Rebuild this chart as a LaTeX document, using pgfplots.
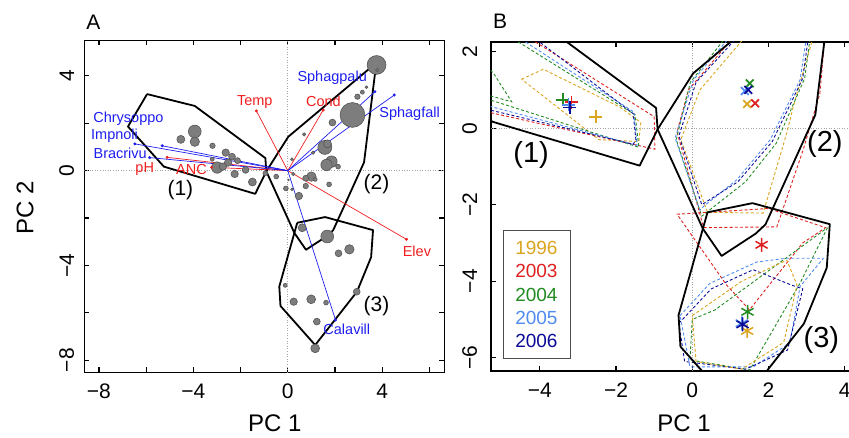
\documentclass[border=0pt]{standalone}
\usepackage{fontspec}
\setmainfont{Liberation Sans}
\usepackage{pgfplots}
\pgfplotsset{compat=1.18}
\definecolor{cgold}{RGB}{218,165,32}
\definecolor{cred}{RGB}{222,32,32}
\definecolor{cgreen}{RGB}{34,139,34}
\definecolor{clblue}{RGB}{80,140,240}
\definecolor{cnavy}{RGB}{10,10,150}
\definecolor{ared}{RGB}{240,30,30}
\definecolor{ablue}{RGB}{30,30,240}
\definecolor{bubfill}{RGB}{125,125,125}
\definecolor{bubedge}{RGB}{85,85,85}
\pgfplotsset{
  panel/.style={
    scale only axis, anchor=south west,
    axis line style={line width=1.6pt},
    tick align=inside, major tick length=5pt,
    tick style={black, line width=1.2pt},
    tick label style={font=\fontsize{21}{21}\selectfont},
    /pgf/number format/assume math mode=true,
    yticklabel style={rotate=90, anchor=south},
  },
  dsh/.style={line width=0.9pt, dash pattern=on 3pt off 2.2pt},
  hull/.style={black, line width=1.8pt, line join=round},
  arr/.style={line width=0.7pt, mark=*, mark size=1.1pt, mark indices={2}},
}
\tikzset{lab/.style={font=\fontsize{14.5}{14.5}\selectfont, inner sep=0pt}}
\begin{document}
\begin{tikzpicture}
\useasboundingbox (0,0) rectangle (849pt,437pt);
% ---------------- Panel A
\begin{axis}[panel, at={(84.3pt,64.7pt)}, width=360pt, height=332pt,
  xmin=-8.62, xmax=6.63, ymin=-8.51, ymax=5.50,
  xtick={-8,-6,...,6}, xticklabels={−8,,−4,,0,,4,},
  ytick={-8,-6,...,4}, yticklabels={−8,,−4,,0,,4},
  xticklabel shift=8pt, yticklabel shift=6.6pt]
\draw[gray!70, dotted, line width=0.6pt] (axis cs:0,-8.51) -- (axis cs:0,5.5);
\draw[gray!70, dotted, line width=0.6pt] (axis cs:-8.62,0) -- (axis cs:6.63,0);
\addplot[scatter, only marks, mark=*,
  scatter/use mapped color={draw=bubedge, fill=bubfill},
  visualization depends on={\thisrow{r}\as\rr},
  scatter/@pre marker code/.append style={/tikz/mark size=\rr pt},
  mark options={line width=0.6pt}] table[x=x,y=y]{
x y r
-3.94 1.65 6.4
-4.53 1.32 4.0
-3.94 1.22 4.7
-3.19 1.05 2.7
-2.63 0.76 3.7
-2.36 0.59 3.4
-2.13 0.42 3.0
-3.20 0.48 2.0
-2.53 0.34 3.7
-2.99 0.13 5.7
-2.75 0.17 3.7
-2.25 -0.14 3.7
-1.79 0.03 3.4
-1.50 -0.48 4.0
-0.95 -0.11 2.4
-0.49 -0.25 2.4
3.76 4.46 9.4
3.79 4.25 1.7
2.74 2.35 12.4
3.33 3.52 1.4
3.16 3.31 2.0
2.95 3.12 2.7
1.89 2.03 3.4
0.69 1.53 1.7
1.57 0.98 7.0
1.68 1.13 4.0
1.07 0.76 1.7
1.85 0.38 5.7
1.64 0.24 5.7
2.13 0.17 2.4
0.23 -0.14 1.7
1.00 -0.25 4.7
0.76 -0.32 3.0
1.16 -0.37 2.0
0.76 -0.65 2.7
1.75 -0.58 2.4
-0.08 -0.75 2.4
0.18 -0.79 1.4
0.47 -1.07 3.7
0.18 0.48 1.4
0.03 -0.39 0.8
0.61 -2.41 4.0
1.67 -2.78 6.4
2.61 -3.32 4.7
2.15 -3.49 3.4
-0.11 -4.84 2.0
0.25 -5.53 3.7
0.99 -5.43 4.4
1.62 -5.57 2.4
2.92 -5.11 3.4
1.23 -6.37 3.4
1.16 -7.50 4.4
};
% hulls
\addplot[hull] coordinates {(-5.96,3.23) (-3.94,2.73) (-0.95,0.53) (-0.91,-0.03) (-1.38,-0.98) (-5.25,0.17) (-6.77,1.86) (-5.96,3.23)};
\addplot[hull] coordinates {(-0.91,-0.03) (0.02,1.43) (3.75,4.55) (3.23,0.35) (1.92,-2.52) (1.66,-2.76) (0.77,-3.34) (0.28,-2.63) (-0.91,-0.03)};
\addplot[hull] coordinates {(0.40,-2.20) (1.58,-1.96) (3.61,-2.51) (3.53,-3.65) (2.93,-5.11) (1.16,-7.36) (-0.31,-5.71) (-0.36,-4.89) (0.40,-2.20)};
% red vectors
\addplot[arr, ared] coordinates {(0,0) (-1.33,2.52)};
\addplot[arr, ared] coordinates {(0,0) (1.50,2.56)};
\addplot[arr, ared] coordinates {(0,0) (-5.11,0.56)};
\addplot[arr, ared] coordinates {(0,0) (-3.23,0.14)};
\addplot[arr, ared] coordinates {(0,0) (5.03,-2.90)};
% blue vectors
\addplot[arr, ablue] coordinates {(0,0) (3.69,3.33)};
\addplot[arr, ablue] coordinates {(0,0) (4.51,3.19)};
\addplot[arr, ablue] coordinates {(0,0) (-5.32,1.05)};
\addplot[arr, ablue] coordinates {(0,0) (-6.48,1.13)};
\addplot[arr, ablue] coordinates {(0,0) (-5.85,0.55)};
\addplot[arr, ablue] coordinates {(0,0) (2.02,-6.30)};
% labels
\node[lab, text=ared] at (axis cs:-1.40,2.91) {Temp};
\node[lab, text=ared] at (axis cs:1.51,2.94) {Cond};
\node[lab, text=ared] at (axis cs:-6.06,0.08) {pH};
\node[lab, text=ared] at (axis cs:-4.08,0.03) {ANC};
\node[lab, text=ared] at (axis cs:5.47,-3.42) {Elev};
\node[lab, text=ablue] at (axis cs:1.88,3.90) {Sphagpalu};
\node[lab, text=ablue] at (axis cs:5.16,2.42) {Sphagfall};
\node[lab, text=ablue] at (axis cs:-6.75,2.21) {Chrysoppo};
\node[lab, text=ablue] at (axis cs:-7.34,1.46) {Impnoli};
\node[lab, text=ablue] at (axis cs:-7.10,0.72) {Bracrivu};
\node[lab, text=ablue] at (axis cs:2.50,-6.68) {Calavill};
\node[font=\fontsize{21}{21}\selectfont, inner sep=0pt] at (axis cs:-4.55,-0.82) {(1)};
\node[font=\fontsize{21}{21}\selectfont, inner sep=0pt] at (axis cs:3.76,-0.56) {(2)};
\node[font=\fontsize{21}{21}\selectfont, inner sep=0pt] at (axis cs:3.76,-5.71) {(3)};
\end{axis}
% ---------------- Panel B
\begin{axis}[panel, at={(490.7pt,66.3pt)}, width=379.3pt, height=329pt,
  xmin=-5.29, xmax=4.665, ymin=-6.34, ymax=2.26,
  xtick={-4,-2,0,2,4}, xticklabels={−4,−2,0,2,4},
  ytick={-6,-4,-2,0,2}, yticklabels={−6,−4,−2,0,2},
  xticklabel shift=9pt, yticklabel shift=10pt]
\draw[gray!70, dotted, line width=0.6pt] (axis cs:0,-6.34) -- (axis cs:0,2.26);
\draw[gray!70, dotted, line width=0.6pt] (axis cs:-5.29,0) -- (axis cs:4.665,0);
% group 1 yearly hulls
\addplot[dsh, cgold] coordinates {(-4.48,1.28) (-3.91,1.54) (-1.9,0.55) (-1.35,0.15) (-1.4,-0.35) (-2.45,-0.3) (-4.48,1.28)};
\addplot[dsh, cred] coordinates {(-4.35,2.4) (-1.0,0.3) (-0.98,-0.55) (-5.5,0.45) (-5.5,2.4) (-4.35,2.4)};
\addplot[dsh, cgreen] coordinates {(-4.8,2.4) (-1.5,0.35) (-1.4,-0.5) (-5.5,0.8) (-5.5,2.4) (-4.8,2.4)};
\addplot[dsh, cgreen] coordinates {(-5.5,1.7) (-5.22,1.44) (-4.74,0.69) (-5.5,0.9)};
\addplot[dsh, clblue] coordinates {(-4.6,2.4) (-3.6,1.75) (-1.53,0.42) (-1.45,-0.45) (-5.5,0.62) (-5.5,2.4) (-4.6,2.4)};
\addplot[dsh, cnavy] coordinates {(-4.2,2.4) (-1.55,0.38) (-1.48,-0.3) (-1.55,-0.42) (-5.5,0.52) (-5.5,2.4) (-4.2,2.4)};
% group 2 yearly hulls
\addplot[dsh, cgold] coordinates {(1.4,2.4) (0.2,1.0) (-0.3,-0.3) (0.4,-2.2) (1.86,-2.22) (2.48,-0.13) (2.65,0.56) (3.18,2.4)};
\addplot[dsh, cred] coordinates {(1.1,2.4) (-0.1,1.0) (-0.4,-0.1) (0.3,-2.6) (2.22,-2.58) (2.91,-0.57) (3.35,0.91) (3.48,2.4)};
\addplot[dsh, cgreen] coordinates {(0.9,2.4) (-0.05,1.2) (-0.42,-0.3) (0.25,-2.3) (1.4,-1.4) (2.2,-0.4) (2.95,1.3) (3.1,2.4)};
\addplot[dsh, clblue] coordinates {(1.0,2.4) (0.03,1.26) (-0.45,-0.26) (0.2,-2.14) (0.29,-2.05) (1.17,-1.35) (2.04,-0.31) (2.83,1.26) (3.0,2.4)};
\addplot[dsh, cnavy] coordinates {(1.2,2.4) (0.1,1.2) (-0.35,-0.2) (0.25,-2.0) (1.2,-1.4) (2.1,-0.35) (2.9,1.3) (3.05,2.4)};
% group 3 yearly hulls
\addplot[dsh, cred] coordinates {(-0.4,-2.25) (2.0,-2.1) (3.5,-2.6) (2.9,-3.0) (1.5,-4.75) (0.9,-4.1) (-0.4,-2.25)};
\addplot[dsh, cgreen] coordinates {(3.55,-2.6) (2.83,-4.05) (1.51,-6.32) (-0.06,-6.06) (0.0,-5.0) (0.6,-4.75) (3.55,-2.6)};
\addplot[dsh, clblue] coordinates {(-0.32,-4.9) (0.46,-4.06) (1.69,-3.5) (2.48,-3.4) (3.44,-3.4) (2.83,-4.14) (2.56,-5.62) (1.6,-6.24) (-0.06,-6.24) (-0.32,-4.9)};
\addplot[dsh, cnavy] coordinates {(-0.35,-5.1) (0.5,-4.2) (1.6,-3.7) (2.6,-4.1) (2.9,-4.2) (2.5,-5.8) (1.4,-6.3) (-0.2,-6.1) (-0.35,-5.1)};
\addplot[dsh, cgold] coordinates {(0.0,-4.9) (1.3,-4.0) (2.48,-3.45) (2.75,-4.1) (2.4,-5.6) (1.3,-6.3) (0.1,-6.1) (0.0,-4.9)};
% black hulls
\addplot[hull] coordinates {(-5.96,3.23) (-3.94,2.73) (-0.95,0.53) (-0.91,-0.03) (-1.38,-0.98) (-5.25,0.17) (-6.77,1.86) (-5.96,3.23)};
\addplot[hull] coordinates {(-0.91,-0.03) (0.02,1.43) (3.75,4.55) (3.23,0.35) (1.92,-2.52) (1.66,-2.76) (0.77,-3.34) (0.28,-2.63) (-0.91,-0.03)};
\addplot[hull] coordinates {(0.40,-2.20) (1.58,-1.96) (3.61,-2.51) (3.53,-3.65) (2.93,-5.11) (1.16,-7.36) (-0.31,-5.71) (-0.36,-4.89) (0.40,-2.20)};
% centroids
\addplot[only marks, mark=+, mark size=6.5pt, cgold, mark options={line width=1.8pt}] coordinates {(-2.53,0.30)};
\addplot[only marks, mark=+, mark size=6.5pt, cred, mark options={line width=1.8pt}] coordinates {(-3.17,0.68)};
\addplot[only marks, mark=+, mark size=6.5pt, cgreen, mark options={line width=1.8pt}] coordinates {(-3.40,0.74)};
\addplot[only marks, mark=+, mark size=6.5pt, clblue, mark options={line width=1.8pt}] coordinates {(-3.25,0.61)};
\addplot[only marks, mark=+, mark size=6.5pt, cnavy, mark options={line width=1.8pt}] coordinates {(-3.21,0.54)};
\addplot[only marks, mark=x, mark size=5.5pt, cgold, mark options={line width=1.8pt}] coordinates {(1.44,0.63)};
\addplot[only marks, mark=x, mark size=5.5pt, cred, mark options={line width=1.8pt}] coordinates {(1.65,0.65)};
\addplot[only marks, mark=x, mark size=5.5pt, cgreen, mark options={line width=1.8pt}] coordinates {(1.51,1.17)};
\addplot[only marks, mark=x, mark size=5.5pt, clblue, mark options={line width=1.8pt}] coordinates {(1.38,0.97)};
\addplot[only marks, mark=x, mark size=5.5pt, cnavy, mark options={line width=1.8pt}] coordinates {(1.47,1.00)};
\addplot[only marks, mark=asterisk, mark size=7pt, cgold, mark options={line width=1.5pt}] coordinates {(1.44,-5.30)};
\addplot[only marks, mark=asterisk, mark size=7pt, cred, mark options={line width=1.5pt}] coordinates {(1.82,-3.05)};
\addplot[only marks, mark=asterisk, mark size=7pt, cgreen, mark options={line width=1.5pt}] coordinates {(1.45,-4.80)};
\addplot[only marks, mark=asterisk, mark size=7pt, clblue, mark options={line width=1.5pt}] coordinates {(1.30,-5.10)};
\addplot[only marks, mark=asterisk, mark size=7pt, cnavy, mark options={line width=1.5pt}] coordinates {(1.32,-5.13)};
% group labels
\node[font=\fontsize{29}{29}\selectfont, inner sep=0pt] at (axis cs:-4.23,-0.71) {(1)};
\node[font=\fontsize{29}{29}\selectfont, inner sep=0pt] at (axis cs:3.48,-0.41) {(2)};
\node[font=\fontsize{29}{29}\selectfont, inner sep=0pt] at (axis cs:3.39,-5.55) {(3)};
% legend
\node[draw=black!70, line width=0.8pt, fill=white, inner sep=0pt, minimum width=67pt, minimum height=128pt, align=center, font=\fontsize{19}{23.3}\selectfont] at (axis cs:-4.09,-4.35)
 {\textcolor{cgold}{1996}\\\textcolor{cred}{2003}\\\textcolor{cgreen}{2004}\\\textcolor{clblue}{2005}\\\textcolor{cnavy}{2006}};
\end{axis}
% outer labels
\node[font=\fontsize{21}{21}\selectfont] at (93.3pt,414.5pt) {A};
\node[font=\fontsize{21}{21}\selectfont] at (500pt,416.2pt) {B};
\node[font=\fontsize{24}{24}\selectfont] at (274.7pt,14pt) {PC 1};
\node[font=\fontsize{24}{24}\selectfont] at (684pt,14pt) {PC 1};
\node[font=\fontsize{24}{24}\selectfont, rotate=90] at (25pt,229.3pt) {PC 2};
\end{tikzpicture}
\end{document}
